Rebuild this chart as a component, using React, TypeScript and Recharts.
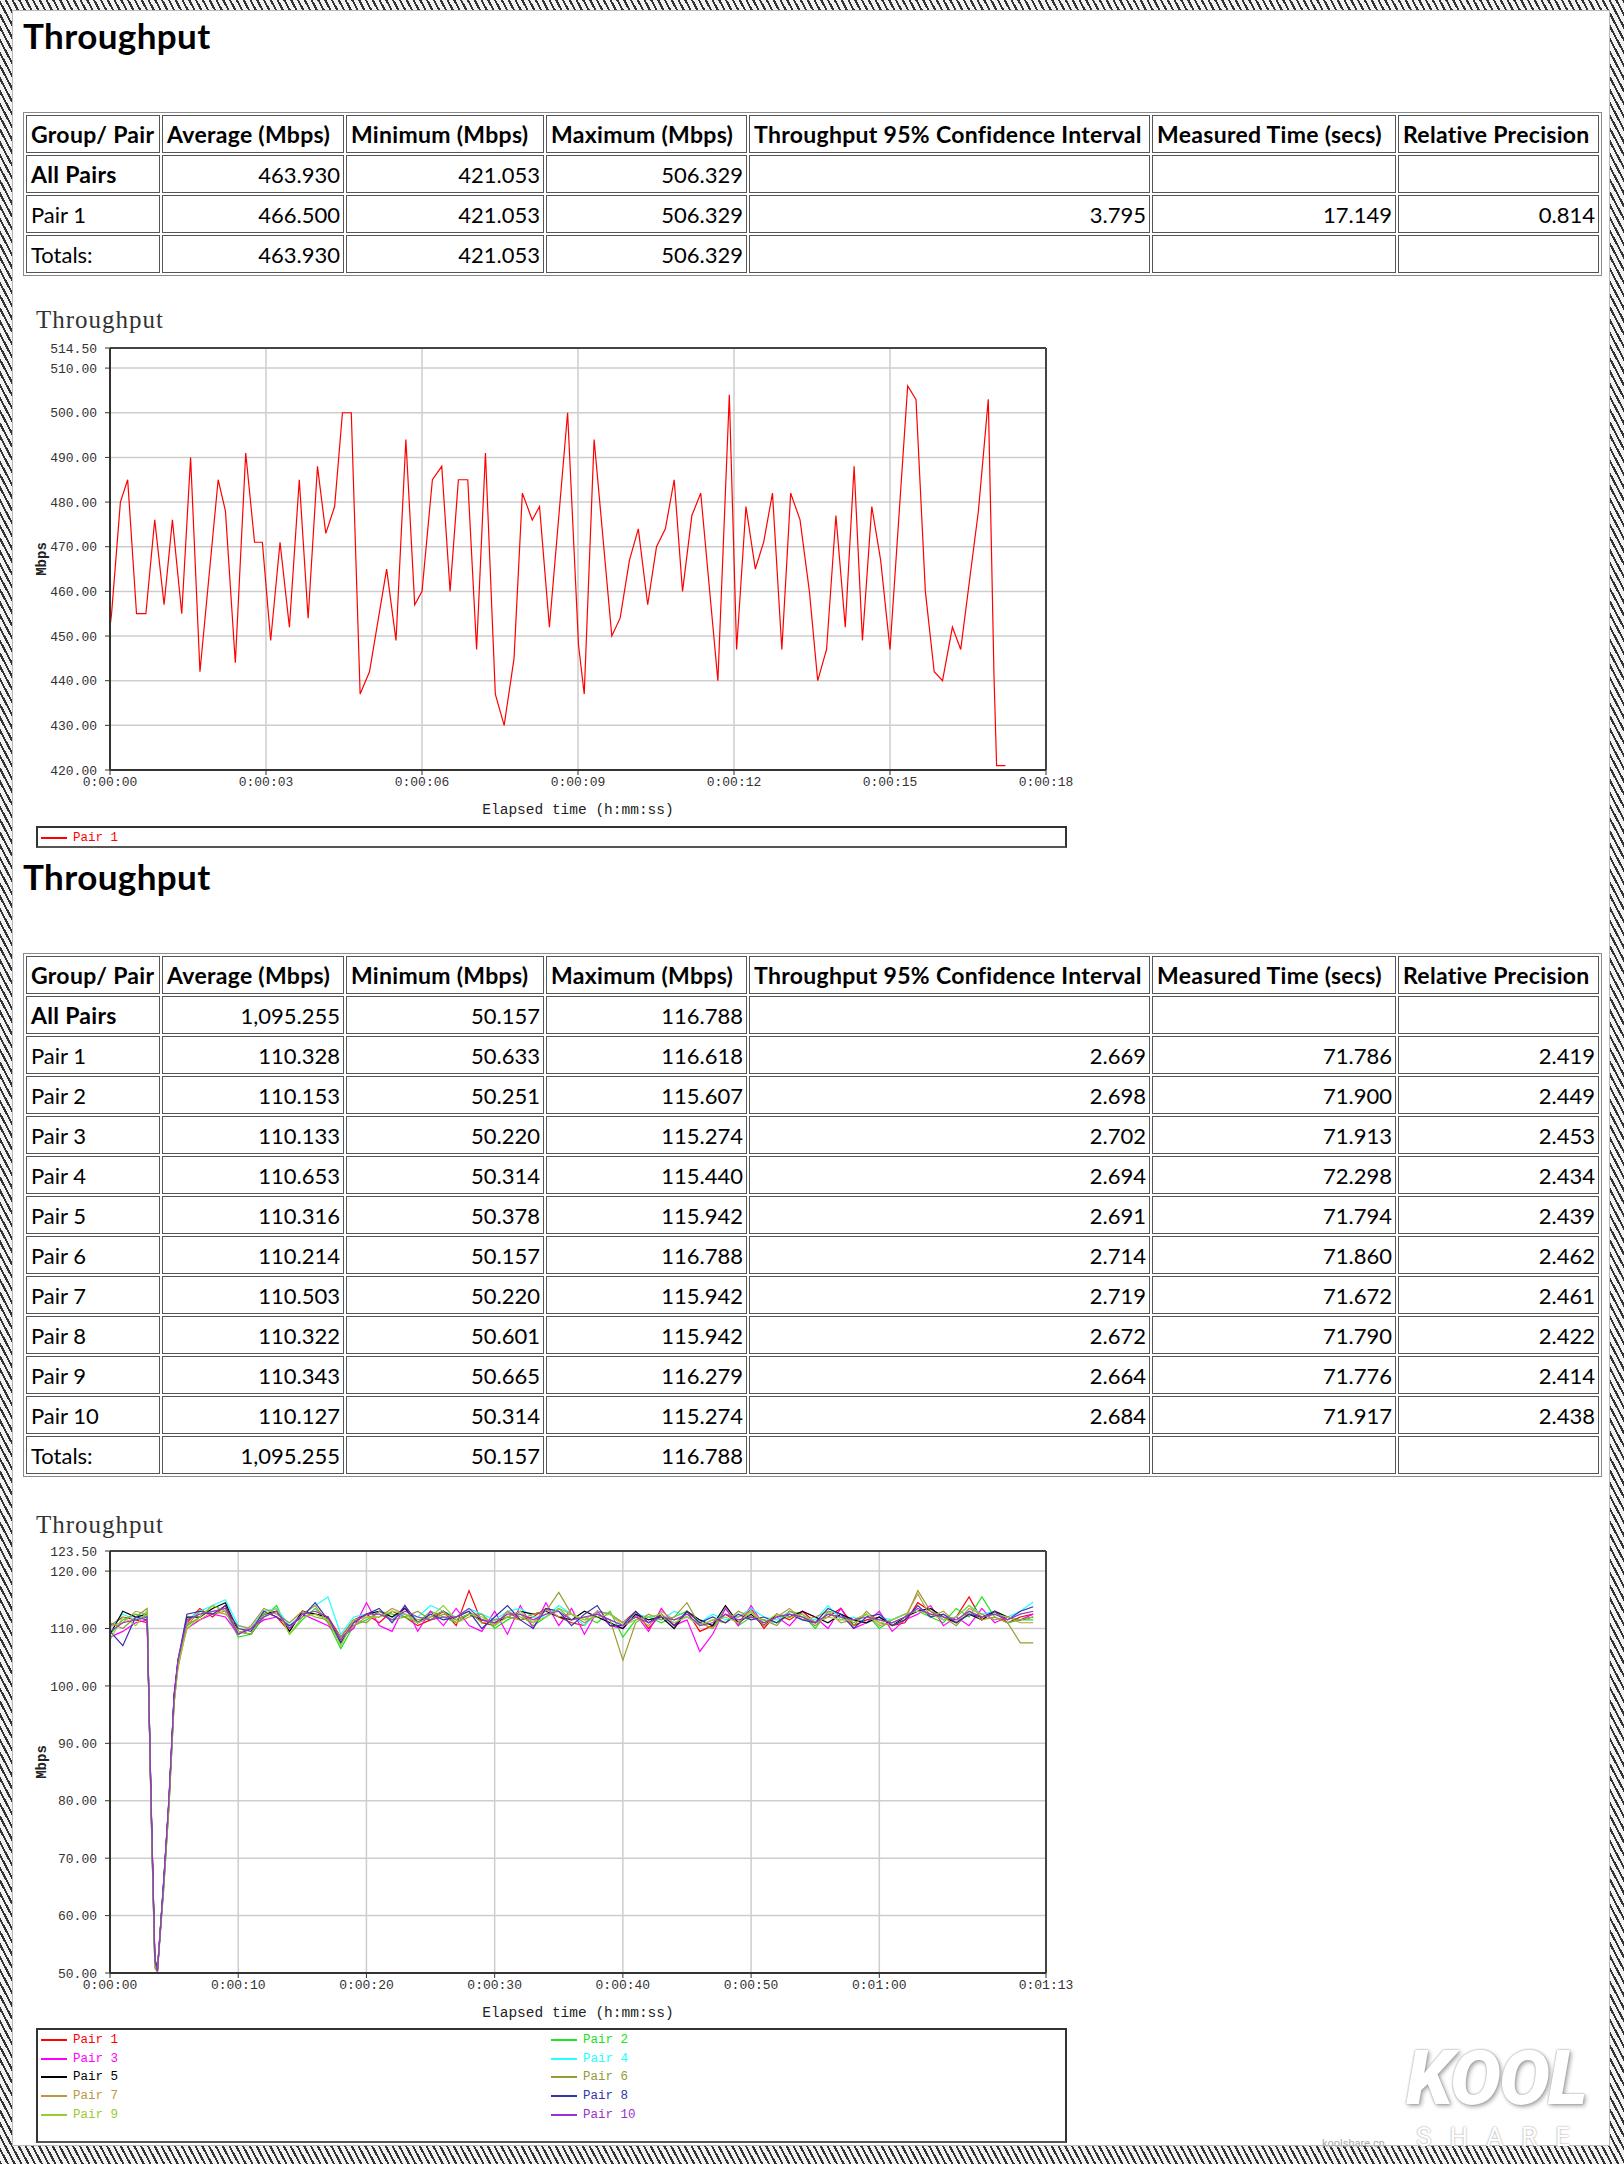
import React from 'react';
import { LineChart, Line, XAxis, YAxis, CartesianGrid, ReferenceLine } from 'recharts';

const MONO = '"Liberation Mono", "DejaVu Sans Mono", monospace';
const SANS = 'Lato, "Open Sans", sans-serif';
const SERIF = '"Liberation Serif", "DejaVu Serif", serif';

// ---- tables ----
const TABLE_HEADERS = ['Group/ Pair', 'Average (Mbps)', 'Minimum (Mbps)', 'Maximum (Mbps)', 'Throughput 95% Confidence Interval', 'Measured Time (secs)', 'Relative Precision'];

const TABLE1_ROWS = [
  ['All Pairs', '463.930', '421.053', '506.329', '', '', ''],
  ['Pair 1', '466.500', '421.053', '506.329', '3.795', '17.149', '0.814'],
  ['Totals:', '463.930', '421.053', '506.329', '', '', ''],
];

const TABLE2_ROWS = [
  ['All Pairs', '1,095.255', '50.157', '116.788', '', '', ''],
  ['Pair 1', '110.328', '50.633', '116.618', '2.669', '71.786', '2.419'],
  ['Pair 2', '110.153', '50.251', '115.607', '2.698', '71.900', '2.449'],
  ['Pair 3', '110.133', '50.220', '115.274', '2.702', '71.913', '2.453'],
  ['Pair 4', '110.653', '50.314', '115.440', '2.694', '72.298', '2.434'],
  ['Pair 5', '110.316', '50.378', '115.942', '2.691', '71.794', '2.439'],
  ['Pair 6', '110.214', '50.157', '116.788', '2.714', '71.860', '2.462'],
  ['Pair 7', '110.503', '50.220', '115.942', '2.719', '71.672', '2.461'],
  ['Pair 8', '110.322', '50.601', '115.942', '2.672', '71.790', '2.422'],
  ['Pair 9', '110.343', '50.665', '116.279', '2.664', '71.776', '2.414'],
  ['Pair 10', '110.127', '50.314', '115.274', '2.684', '71.917', '2.438'],
  ['Totals:', '1,095.255', '50.157', '116.788', '', '', ''],
];

// ---- chart 1 (single pair, ~17 s) ----
const CHART1_TIMES = [
  0, 0.03, 0.2, 0.34, 0.51, 0.69, 0.86, 1.04, 1.2, 1.38,
  1.55, 1.73, 2.08, 2.22, 2.41, 2.61, 2.78, 2.93, 3.09, 3.27,
  3.45, 3.64, 3.81, 3.99, 4.15, 4.32, 4.47, 4.64, 4.81, 4.99,
  5.32, 5.5, 5.69, 5.86, 6.0, 6.2, 6.38, 6.54, 6.7, 6.88,
  7.05, 7.22, 7.41, 7.58, 7.77, 7.93, 8.12, 8.26, 8.45, 8.8,
  9.01, 9.12, 9.31, 9.65, 9.81, 9.99, 10.16, 10.34, 10.51, 10.68,
  10.85, 11.01, 11.19, 11.36, 11.69, 11.91, 12.05, 12.23, 12.41, 12.57,
  12.74, 12.92, 13.09, 13.27, 13.45, 13.61, 13.78, 13.96, 14.14, 14.31,
  14.47, 14.65, 14.82, 15.0, 15.34, 15.5, 15.68, 15.85, 16.01, 16.2,
  16.36, 16.7, 16.89, 16.95, 17.0, 17.05, 17.22,
];
const PAIR1_MBPS = [
  452, 455, 480, 485, 455, 455, 476, 457, 476, 455,
  490, 442, 485, 478, 444, 491, 471, 471, 449, 471,
  452, 485, 454, 488, 473, 479, 500, 500, 437, 442,
  465, 449, 494, 457, 460, 485, 488, 460, 485, 485,
  447, 491, 437, 430, 445, 482, 476, 479, 452, 500,
  448, 437, 494, 450, 454, 467, 474, 457, 470, 474,
  485, 460, 477, 482, 440, 504, 447, 479, 465, 471,
  482, 447, 482, 476, 460, 440, 447, 477, 452, 488,
  449, 479, 467, 447, 506, 503, 460, 442, 440, 452,
  447, 478, 503, 470, 441, 421, 421,
];
const CHART1_X_TICKS = [0, 3, 6, 9, 12, 15, 18];
const CHART1_Y_TICKS = [420, 430, 440, 450, 460, 470, 480, 490, 500, 510, 514.5];

// ---- chart 2 (ten pairs, ~72 s) ----
const CHART2_TIMES = [
  0, 1, 2, 2.9, 3.2, 3.5, 3.7, 4.2, 4.6, 5, 5.3, 6,
  7, 8, 9, 10, 11, 12, 13, 14, 15, 16, 17,
  18, 19, 20, 21, 22, 23, 24, 25, 26, 27, 28,
  29, 30, 31, 32, 33, 34, 35, 36, 37, 38, 39,
  40, 41, 42, 43, 44, 45, 46, 47, 48, 49, 50,
  51, 52, 53, 54, 55, 56, 57, 58, 59, 60, 61,
  62, 63, 64, 65, 66, 67, 68, 69, 70, 71, 72,
];
const PAIR_1 = [
  110.5, 112, 111.5, 111, 80, 52, 50.6, 66, 80, 98, 104, 111,
  113.5, 112, 114, 109, 110, 113, 112, 109.5, 113, 112.5, 112,
  108.5, 111.5, 112.5, 111, 113, 112, 110.5, 111.5, 113, 110.5, 116.6,
  111, 110.5, 113, 111.5, 112, 113.5, 112, 111, 110.5, 113, 112.5,
  111, 113, 110, 112.5, 110.5, 113, 109.5, 110.5, 112.5, 111, 113.5,
  110, 112.5, 111.5, 113, 111, 112, 113.5, 110.5, 111.5, 112, 110.5,
  111, 114.5, 113, 111.5, 112, 115.5, 111.5, 113, 111, 112, 112.5,
];
const PAIR_2 = [
  109, 111.5, 112.5, 112, 79, 51.5, 50.3, 65.5, 79, 97, 104, 110.5,
  112, 114, 113, 108.5, 109, 112, 114, 109, 111.5, 113.5, 111,
  106.5, 110.5, 111.5, 113, 112.5, 112, 111, 113, 112, 111, 112.5,
  112.5, 110, 111.5, 112.5, 110.5, 112, 113.5, 111.5, 112, 111, 113,
  108.5, 111.5, 112, 111, 112, 113, 111, 110, 113.5, 110.5, 112,
  111.5, 111, 113, 112.5, 110, 113, 112.5, 111, 112.5, 110, 111.5,
  112.5, 113, 112, 111, 113.5, 112, 115.5, 112, 111, 111.5, 111.5,
];
const PAIR_3 = [
  108.5, 109.5, 111, 111.5, 80.5, 52, 50.2, 66.5, 80.5, 98.5, 104.5, 110,
  111.5, 112.5, 112, 109, 110, 111.5, 112, 110.5, 112.5, 111.5, 110.5,
  108.5, 110, 114.5, 110.5, 109.5, 114, 109.5, 113, 110.5, 113.5, 110.5,
  109.5, 113, 109, 114, 110, 114.5, 110.5, 113.5, 109, 113, 110.5,
  110, 112.5, 109.5, 113.5, 110.5, 111.5, 106, 109, 113.5, 110.5, 114,
  110.5, 112, 110.5, 113, 112, 110, 113.5, 110, 111, 113, 109.5,
  111.5, 112.5, 114, 110.5, 112, 110.5, 113.5, 111, 112, 111.5, 112.5,
];
const PAIR_4 = [
  110, 112.5, 111.5, 113, 79.5, 51, 50.3, 65, 79.5, 97.5, 103.5, 111.5,
  113, 114, 115, 110.5, 110, 113, 113.5, 110.5, 112.5, 114, 115.5,
  109, 112, 112.5, 113, 112, 112.5, 112, 114, 113, 112, 113.5,
  112.5, 111.5, 113, 113.5, 112, 112, 114, 112.5, 110.5, 113, 112.5,
  111, 112.5, 112, 111.5, 113, 112, 111, 112.5, 111.5, 112, 113.5,
  112, 111.5, 113, 112, 111.5, 114, 111.5, 112, 111, 112, 111.5,
  112.5, 113, 113.5, 111.5, 112, 114, 112.5, 113, 112, 113, 114.6,
];
const PAIR_5 = [
  109, 113, 112, 112.5, 80, 52.5, 50.4, 66, 80, 98, 104, 112,
  112, 113.5, 114.5, 109.5, 109, 112.5, 113, 109.5, 113, 112.5, 112,
  107.5, 111, 112.5, 113, 112, 113.5, 111, 112, 113, 111.5, 112.5,
  111.5, 111, 112, 113, 112.5, 113, 112, 111.5, 113, 112, 111,
  110, 112.5, 111.5, 112, 110, 113, 111.5, 110.5, 114, 111, 112.5,
  110.5, 112.5, 112, 113, 112, 111, 112.5, 111.5, 111, 112, 110.5,
  112, 113, 113.5, 112, 111, 112.5, 111.5, 113, 112, 111.5, 112,
];
const PAIR_6 = [
  111, 110, 112, 113.5, 78.5, 50.8, 50.2, 65, 79, 97, 103, 110.5,
  113, 112.5, 113, 109, 110.5, 113.5, 112.5, 111, 113, 112, 111.5,
  108.5, 111.5, 111, 113, 111.5, 112, 113, 111.5, 112.5, 112, 113,
  111, 111.5, 112, 111.5, 112.5, 113, 116.3, 112.5, 111, 112.5, 111.5,
  104.5, 111, 112.5, 111.5, 112, 114.5, 110.5, 111.5, 111, 113, 112,
  111.5, 110.5, 113, 112, 110.5, 112.5, 112, 110.5, 113, 111, 110.5,
  111.5, 116.6, 113, 112, 110.5, 113, 111.5, 112, 111, 107.5, 107.5,
];
const PAIR_7 = [
  110.5, 111, 113, 112.5, 79, 51.5, 50.2, 66, 79.5, 97.5, 104, 111,
  111.5, 113, 112.5, 110.5, 110, 112, 113, 110, 112.5, 114, 111,
  108, 110.5, 112, 112, 113.5, 112.5, 111.5, 112, 113, 111, 112,
  112.5, 110.5, 113, 112, 111, 113.5, 112, 112.5, 111.5, 113, 112.5,
  111, 112, 110.5, 113, 111.5, 112, 111, 110, 112.5, 112, 113,
  110.5, 112, 113.5, 111.5, 112, 113, 111, 111.5, 112.5, 110.5, 111,
  112, 116, 112, 113, 111, 113.5, 112.5, 111.5, 112, 111, 111,
];
const PAIR_8 = [
  109.5, 107, 112, 111.5, 80.5, 52.5, 50.6, 66.5, 80, 98.5, 104.5, 112.5,
  113, 112.5, 114, 110, 109.5, 113, 112, 110.5, 112, 114.5, 111.5,
  107.5, 111, 112.5, 113.5, 111, 114, 111, 112.5, 111.5, 112, 113,
  110, 112, 114, 111.5, 110, 113.5, 113, 110.5, 112.5, 114, 110.5,
  110.5, 113, 111, 112.5, 110.5, 113, 111, 112, 111, 112.5, 111.5,
  112, 111, 112.5, 111.5, 111, 113.5, 112.5, 110, 112, 112.5, 110.5,
  111.5, 114, 112, 112.5, 111, 112.5, 112, 113, 111.5, 113, 113.8,
];
const PAIR_9 = [
  108, 112, 110.5, 113, 79, 51, 50.7, 65.5, 79.5, 97, 103.5, 110,
  112, 114, 113, 109.5, 109, 112.5, 113.5, 109, 112, 112.5, 111.5,
  107, 111.5, 112, 112, 113, 112.5, 111, 112, 114, 111.5, 112.5,
  112, 110.5, 112, 113, 111, 112, 113.5, 112.5, 111.5, 112, 112.5,
  110.5, 111.5, 112, 112.5, 111, 112, 110.5, 111.5, 112, 111, 113,
  111, 112.5, 112, 112.5, 111, 112, 111.5, 111.5, 112.5, 111, 111.5,
  112.5, 113, 112.5, 111.5, 112, 114, 112, 112.5, 112, 111.5, 112,
];
const PAIR_10 = [
  109.5, 111, 111.5, 112, 80, 52, 50.3, 66, 80.5, 98, 104.5, 111.5,
  112.5, 113, 113.5, 109, 110, 112, 113, 110, 112.5, 113, 112,
  108, 111, 112.5, 112.5, 111.5, 113, 112, 111.5, 112, 112, 113.5,
  111.5, 111, 112.5, 112.5, 111.5, 112.5, 113, 111.5, 112, 112.5, 111.5,
  110.5, 112, 111, 112, 111.5, 112.5, 110.5, 111, 112.5, 111.5, 112,
  111, 112, 112.5, 112, 111, 112.5, 112, 111.5, 112, 111.5, 111,
  112, 113.5, 112.5, 112, 111.5, 113, 112, 112.5, 111.5, 112.5, 113,
];
const CHART2_X_TICKS = [0, 10, 20, 30, 40, 50, 60, 73];
const CHART2_Y_TICKS = [50, 60, 70, 80, 90, 100, 110, 120, 123.5];

const PAIR_NAMES = ['Pair 1', 'Pair 2', 'Pair 3', 'Pair 4', 'Pair 5', 'Pair 6', 'Pair 7', 'Pair 8', 'Pair 9', 'Pair 10'];
const PAIR_COLORS = ['#ff0000', '#22e022', '#ff00ff', '#22ffff', '#000000', '#999933', '#bb9944', '#3333aa', '#99cc33', '#9933cc'];
const PAIR_VALUES = [PAIR_1, PAIR_2, PAIR_3, PAIR_4, PAIR_5, PAIR_6, PAIR_7, PAIR_8, PAIR_9, PAIR_10];

const chart1Data = CHART1_TIMES.map((t, i) => ({ t, p1: PAIR1_MBPS[i] }));
const chart2Data = CHART2_TIMES.map((t, i) => {
  const row: Record<string, number> = { t };
  PAIR_VALUES.forEach((arr, k) => { row[`p${k + 1}`] = arr[i]; });
  return row;
});

const hms = (s: number) => {
  const m = Math.floor(s / 60);
  const sec = Math.round(s % 60);
  return `0:${String(m).padStart(2, '0')}:${String(sec).padStart(2, '0')}`;
};

const COL_WIDTHS = [134, 182, 198, 201, 401, 244, 201];

const cell: React.CSSProperties = {
  border: '1px solid #555', height: 38, boxSizing: 'border-box', padding: '0 3px 0 4px', overflow: 'hidden', whiteSpace: 'nowrap',
};
// bold text in the source is a little wider than Lato bold
const boldCell: React.CSSProperties = { fontWeight: 700, fontSize: 23, letterSpacing: 0.3 };

const StatsTable: React.FC<{ rows: string[][]; top: number }> = ({ rows, top }) => (
  <table
    style={{
      position: 'absolute', left: 23, top, width: 1579, tableLayout: 'fixed',
      borderCollapse: 'separate', borderSpacing: 2, border: '1px solid #8a8a8a',
      fontFamily: SANS, fontSize: 22, color: '#000', background: '#fff',
    }}
  >
    <colgroup>
      {COL_WIDTHS.map((w, i) => <col key={i} style={{ width: w }} />)}
    </colgroup>
    <tbody>
      <tr>
        {TABLE_HEADERS.map((h) => (
          <td key={h} style={{ ...cell, ...boldCell, textAlign: 'left' }}>{h}</td>
        ))}
      </tr>
      {rows.map((r) => (
        <tr key={r[0]}>
          {r.map((c, j) => (
            <td key={j} style={{ ...cell, textAlign: j === 0 ? 'left' : 'right', ...(j === 0 && c === 'All Pairs' ? boldCell : {}) }}>{c}</td>
          ))}
        </tr>
      ))}
    </tbody>
  </table>
);

const tickStyle = { fontFamily: MONO, fontSize: 13, fill: '#333' };

type SeriesDef = { key: string; name: string; color: string };

const ThroughputChart: React.FC<{
  top: number; data: Record<string, number>[]; series: SeriesDef[];
  xMax: number; xTicks: number[]; yMin: number; yMax: number; yTicks: number[];
}> = ({ top, data, series, xMax, xTicks, yMin, yMax, yTicks }) => (
  <div style={{ position: 'absolute', left: 0, top, width: 1100, height: 507 }}>
    <LineChart width={1100} height={507} data={data} margin={{ top: 8, right: 54, bottom: 0, left: 0 }}>
      <CartesianGrid stroke="#cdcdcd" strokeWidth={1.5} />
      <XAxis
        type="number" dataKey="t" domain={[0, xMax]} ticks={xTicks} interval={0}
        tickFormatter={hms} tick={tickStyle} tickSize={5} tickMargin={2} height={77}
        axisLine={{ stroke: '#333', strokeWidth: 2 }} tickLine={{ stroke: '#333' }}
        label={{ value: 'Elapsed time (h:mm:ss)', position: 'center', fill: '#222', fontSize: 14.5, fontFamily: MONO }}
      />
      <YAxis
        type="number" domain={[yMin, yMax]} ticks={yTicks} interval={0} allowDataOverflow
        tickFormatter={(v: number) => v.toFixed(2)} tick={tickStyle} tickSize={5} tickMargin={8} width={110}
        axisLine={{ stroke: '#333', strokeWidth: 2 }} tickLine={{ stroke: '#333' }}
        label={{ value: 'Mbps', angle: -90, position: 'center', dx: -14, fill: '#222', fontSize: 14, fontWeight: 700, fontFamily: MONO }}
      />
      <ReferenceLine y={yMax} stroke="#444" strokeWidth={2} />
      <ReferenceLine x={xMax} stroke="#444" strokeWidth={2} />
      {series.map((s) => (
        <Line key={s.key} type="linear" dataKey={s.key} name={s.name} stroke={s.color} strokeWidth={1.2}
          dot={false} activeDot={false} isAnimationActive={false} />
      ))}
    </LineChart>
  </div>
);

const LegendBox: React.FC<{ top: number; height: number; series: SeriesDef[] }> = ({ top, height, series }) => (
  <div style={{ position: 'absolute', left: 36, top, width: 1031, height, boxSizing: 'border-box', border: '2px solid #333', borderBottomColor: '#555', background: '#fff' }}>
    {series.map((s, i) => {
      const col = i % 2;
      const row = Math.floor(i / 2);
      return (
        <div key={s.key} style={{ position: 'absolute', left: col === 0 ? 3 : 513, top: 2 + row * 18.7, height: 16, display: 'flex', alignItems: 'center' }}>
          <span style={{ display: 'inline-block', width: 26, height: 2, background: s.color, marginRight: 6 }} />
          <span style={{ fontFamily: MONO, fontSize: 12.5, color: s.color }}>{s.name}</span>
        </div>
      );
    })}
  </div>
);

const SectionTitle: React.FC<{ top: number }> = ({ top }) => (
  <div style={{ position: 'absolute', left: 23, top, fontFamily: SANS, fontWeight: 700, fontSize: 35, letterSpacing: 0.4, lineHeight: 1.2 }}>Throughput</div>
);

const ChartTitle: React.FC<{ top: number }> = ({ top }) => (
  <div style={{ position: 'absolute', left: 36, top, fontFamily: SERIF, fontSize: 25, letterSpacing: 1, color: '#333', lineHeight: 1.1 }}>Throughput</div>
);

export default function App() {
  const series1: SeriesDef[] = [{ key: 'p1', name: 'Pair 1', color: PAIR_COLORS[0] }];
  const series2: SeriesDef[] = PAIR_NAMES.map((n, i) => ({ key: `p${i + 1}`, name: n, color: PAIR_COLORS[i] }));
  return (
    <div style={{
      position: 'absolute', left: 0, top: 0, width: 1624, height: 2164, overflow: 'hidden',
      background: 'repeating-linear-gradient(62deg, #333 0px, #333 2px, #f2f2f2 2px, #f2f2f2 6px)',
    }}>
      <div style={{ position: 'absolute', left: 12, top: 10, width: 1598, height: 2136, background: '#fff', boxSizing: 'border-box', border: '1px solid #bbb' }} />

      <SectionTitle top={14} />
      <StatsTable rows={TABLE1_ROWS} top={112} />
      <ChartTitle top={306} />
      <ThroughputChart top={340} data={chart1Data} series={series1} xMax={18} xTicks={CHART1_X_TICKS}
        yMin={420} yMax={514.5} yTicks={CHART1_Y_TICKS} />
      <LegendBox top={826} height={22} series={series1} />

      <SectionTitle top={855} />
      <StatsTable rows={TABLE2_ROWS} top={953} />
      <ChartTitle top={1511} />
      <ThroughputChart top={1543} data={chart2Data} series={series2} xMax={73} xTicks={CHART2_X_TICKS}
        yMin={50} yMax={123.5} yTicks={CHART2_Y_TICKS} />
      <LegendBox top={2028} height={115} series={series2} />

      <div style={{ position: 'absolute', left: 1406, top: 2040, lineHeight: 1, fontFamily: 'Roboto, sans-serif', fontStyle: 'italic', fontWeight: 900, fontSize: 76, color: '#fff', textShadow: '0 0 2px #888, 2px 2px 4px #aaa', letterSpacing: -2 }}>KOOL</div>
      <div style={{ position: 'absolute', left: 1416, top: 2124, lineHeight: 1, fontFamily: 'Roboto, sans-serif', fontSize: 26, color: '#fff', textShadow: '0 0 2px #888', letterSpacing: 18 }}>SHARE</div>
      <div style={{ position: 'absolute', left: 1322, top: 2138, lineHeight: 1, fontFamily: 'Roboto, sans-serif', fontSize: 11, color: '#aaa' }}>koolshare.cn</div>
    </div>
  );
}
